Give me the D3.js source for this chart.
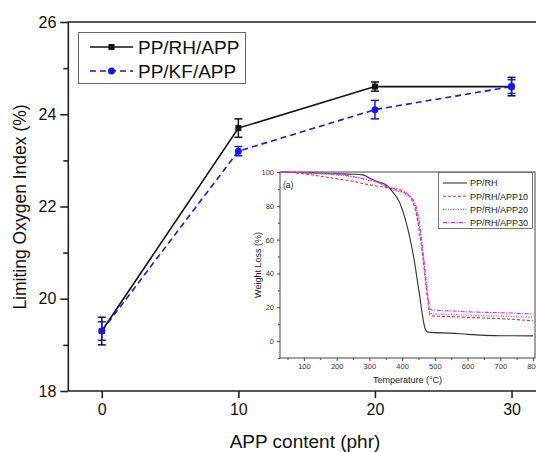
<!DOCTYPE html>
<html>
<head>
<meta charset="utf-8">
<script src="https://cdn.jsdelivr.net/npm/d3@7"></script>
<style>
    body { margin: 0; background: #fff; }
    #chart { width: 536px; height: 452px; overflow: hidden; }
    svg { font-family: "Liberation Sans", Arial, sans-serif; display: block; }
</style>
</head>
<body>
<div id="chart"></div>
<script>
//Datos del gráfico principal
let appContent = [0, 10, 20, 30];
let loiRH = [19.3, 23.7, 24.6, 24.6];
let errRH = [0.3, 0.2, 0.1, 0.2];
let loiKF = [19.3, 23.2, 24.1, 24.6];
let errKF = [0.2, 0.1, 0.2, 0.15];
let yTicks = [18, 20, 22, 24, 26];
let xTicks = [0, 10, 20, 30];

//Datos del gráfico insertado (TGA)
let tgaTemp = [30, 100, 150, 200, 250, 280, 300, 330, 350, 370, 390, 410, 425, 435, 445, 455, 460, 465, 470, 475, 480, 485, 490, 500, 550, 600, 700, 800];
let tgaRH = [100, 99.6, 99.3, 99, 98.7, 98.3, 96.5, 94, 92.5, 88.5, 83, 72, 60, 50, 38, 25, 18, 12, 7.5, 5.8, 5.3, 5.2, 5.1, 5, 4.7, 4, 3.2, 3.1];
let tgaAPP10 = [100, 99, 97.5, 96, 94.5, 93.2, 92.5, 91.5, 91, 90, 89, 87.5, 85, 81, 74, 62, 55, 47, 38, 30, 22, 15.5, 15, 14.8, 14.5, 14, 13.3, 12];
let tgaAPP20 = [100, 99.5, 99, 98.3, 97, 96, 95, 93.5, 92, 89.5, 88.5, 87, 85, 82, 76, 65, 57, 49, 40, 31, 23, 17, 16.3, 16, 15.8, 15.3, 14.8, 14];
let tgaAPP30 = [100, 99.6, 99.2, 98.6, 97.3, 96.2, 95.3, 93.5, 91.5, 90.5, 90, 88, 85.5, 83, 78, 67, 59, 51, 42, 33, 25, 19, 18.5, 18.3, 17.8, 17.3, 16.8, 16];
let tgaNames = ['PP/RH', 'PP/RH/APP10', 'PP/RH/APP20', 'PP/RH/APP30'];
let tgaXTicks = [100, 200, 300, 400, 500, 600, 700, 800];
let tgaYTicks = [0, 20, 40, 60, 80, 100];

let svg = d3.select('#chart').append('svg')
    .attr('width', 536)
    .attr('height', 452);

/* Gráfico principal */
let x = d3.scaleLinear().domain([-2.45, 32.45]).range([68.3, 545]);
let y = d3.scaleLinear().domain([18, 26]).range([391, 22]);

//Marco
svg.append('path')
    .attr('d', `M${x(-2.45)},${y(18)}V${y(26)}H545`)
    .attr('fill', 'none').attr('stroke', '#222').attr('stroke-width', 1.6);
svg.append('line')
    .attr('x1', x(-2.45)).attr('x2', 545)
    .attr('y1', y(18)).attr('y2', y(18))
    .attr('stroke', '#222').attr('stroke-width', 1.6);

//Eje X
let xAxis = svg.append('g')
    .attr('transform', `translate(0,${y(18)})`)
    .call(d3.axisBottom(x).tickValues(xTicks).tickSize(7).tickPadding(6));
xAxis.select('.domain').remove();
xAxis.selectAll('.tick line').attr('stroke', '#222').attr('stroke-width', 1.6);
xAxis.selectAll('.tick text').attr('font-size', 16).attr('fill', '#111')
    .attr('font-family', '"Liberation Sans", Arial, sans-serif');

//Eje Y
let yAxis = svg.append('g')
    .attr('transform', `translate(${x(-2.45)},0)`)
    .call(d3.axisLeft(y).tickValues(yTicks).tickSize(8).tickPadding(4));
yAxis.select('.domain').remove();
yAxis.selectAll('.tick line').attr('stroke', '#222').attr('stroke-width', 1.6);
yAxis.selectAll('.tick text').attr('font-size', 16).attr('fill', '#111')
    .attr('font-family', '"Liberation Sans", Arial, sans-serif');

//Ticks menores
let yMinor = svg.append('g')
    .attr('transform', `translate(${x(-2.45)},0)`)
    .call(d3.axisLeft(y).tickValues([19, 21, 23, 25]).tickSize(5).tickFormat(''));
yMinor.select('.domain').remove();
yMinor.selectAll('.tick line').attr('stroke', '#222').attr('stroke-width', 1.6);

//Títulos de ejes
svg.append('text')
    .attr('x', 305).attr('y', 448)
    .attr('text-anchor', 'middle')
    .attr('font-size', 19).attr('fill', '#111')
    .text('APP content (phr)');
svg.append('text')
    .attr('transform', 'translate(26,207) rotate(-90)')
    .attr('text-anchor', 'middle')
    .attr('font-size', 17.5).attr('fill', '#111')
    .text('Limiting Oxygen Index (%)');

//Series
let seriesMain = [
    {name: 'PP/RH/APP', values: loiRH, errors: errRH, color: '#111', dash: null, marker: 'square'},
    {name: 'PP/KF/APP', values: loiKF, errors: errKF, color: '#1515f0', dash: '6,4', marker: 'circle'}
];

let line = d3.line()
    .x(function(d) { return x(d.x); })
    .y(function(d) { return y(d.y); });

seriesMain.forEach(function(s) {
    let pts = appContent.map(function(a, i) { return {x: a, y: s.values[i], e: s.errors[i]}; });
    let g = svg.append('g');

    g.append('path')
        .datum(pts)
        .attr('d', line)
        .attr('fill', 'none')
        .attr('stroke', s.color)
        .attr('stroke-width', 1.6)
        .attr('stroke-dasharray', s.dash);

    //Barras de error
    pts.forEach(function(p) {
        let cx = x(p.x);
        g.append('line')
            .attr('x1', cx).attr('x2', cx)
            .attr('y1', y(p.y - p.e)).attr('y2', y(p.y + p.e))
            .attr('stroke', s.color).attr('stroke-width', 1.5);
        [p.y - p.e, p.y + p.e].forEach(function(v) {
            g.append('line')
                .attr('x1', cx - 4).attr('x2', cx + 4)
                .attr('y1', y(v)).attr('y2', y(v))
                .attr('stroke', s.color).attr('stroke-width', 1.5);
        });
    });

    //Marcadores
    if (s.marker == 'square') {
        g.selectAll('.mk').data(pts).enter().append('rect')
            .attr('x', function(d) { return x(d.x) - 3; })
            .attr('y', function(d) { return y(d.y) - 3; })
            .attr('width', 6).attr('height', 6)
            .attr('fill', s.color);
    } else {
        g.selectAll('.mk').data(pts).enter().append('circle')
            .attr('cx', function(d) { return x(d.x); })
            .attr('cy', function(d) { return y(d.y); })
            .attr('r', 3.5)
            .attr('fill', s.color);
    }
});

//Leyenda principal
let legend = svg.append('g');
legend.append('rect')
    .attr('x', 78.5).attr('y', 32.5)
    .attr('width', 167).attr('height', 51)
    .attr('fill', '#fff').attr('stroke', '#666').attr('stroke-width', 1);
seriesMain.forEach(function(s, i) {
    let ly = 47 + i * 24;
    legend.append('line')
        .attr('x1', 90).attr('x2', 133)
        .attr('y1', ly).attr('y2', ly)
        .attr('stroke', s.color).attr('stroke-width', 1.6)
        .attr('stroke-dasharray', s.dash);
    if (s.marker == 'square') {
        legend.append('rect').attr('x', 108.5).attr('y', ly - 3).attr('width', 6).attr('height', 6).attr('fill', s.color);
    } else {
        legend.append('circle').attr('cx', 111.5).attr('cy', ly).attr('r', 3.5).attr('fill', s.color);
    }
    legend.append('text')
        .attr('x', 138).attr('y', ly + 7)
        .attr('font-size', 19).attr('fill', '#111')
        .text(s.name);
});

/* Gráfico insertado */
let ix = d3.scaleLinear().domain([27, 806]).range([280, 535]);
let iy = d3.scaleLinear().domain([-10, 100]).range([358, 172]);

let inset = svg.append('g');
inset.append('rect')
    .attr('x', ix(27)).attr('y', iy(100))
    .attr('width', ix(806) - ix(27)).attr('height', iy(-10) - iy(100))
    .attr('fill', '#fff').attr('stroke', '#444').attr('stroke-width', 1);

let ixAxis = inset.append('g')
    .attr('transform', `translate(0,${iy(-10)})`)
    .call(d3.axisBottom(ix).tickValues(tgaXTicks).tickSize(3).tickPadding(3));
ixAxis.select('.domain').remove();
ixAxis.selectAll('.tick text').attr('font-size', 7.5).attr('fill', '#333')
    .attr('font-family', '"Liberation Sans", Arial, sans-serif');
ixAxis.selectAll('.tick line').attr('stroke', '#444');
let ixMinor = inset.append('g')
    .attr('transform', `translate(0,${iy(-10)})`)
    .call(d3.axisBottom(ix).tickValues([50, 150, 250, 350, 450, 550, 650, 750]).tickSize(2).tickFormat(''));
ixMinor.select('.domain').remove();
ixMinor.selectAll('.tick line').attr('stroke', '#444');

let iyAxis = inset.append('g')
    .attr('transform', `translate(${ix(27)},0)`)
    .call(d3.axisLeft(iy).tickValues(tgaYTicks).tickSize(3).tickPadding(3));
iyAxis.select('.domain').remove();
iyAxis.selectAll('.tick text').attr('font-size', 7.5).attr('fill', '#333')
    .attr('font-family', '"Liberation Sans", Arial, sans-serif');
iyAxis.selectAll('.tick line').attr('stroke', '#444');
let iyMinor = inset.append('g')
    .attr('transform', `translate(${ix(27)},0)`)
    .call(d3.axisLeft(iy).tickValues([-10, 10, 30, 50, 70, 90]).tickSize(2).tickFormat(''));
iyMinor.select('.domain').remove();
iyMinor.selectAll('.tick line').attr('stroke', '#444');

inset.append('text')
    .attr('x', (ix(27) + ix(806)) / 2).attr('y', 383)
    .attr('text-anchor', 'middle')
    .attr('font-size', 9).attr('fill', '#222')
    .text('Temperature (°C)');
inset.append('text')
    .attr('transform', `translate(261,${(iy(-10) + iy(100)) / 2}) rotate(-90)`)
    .attr('text-anchor', 'middle')
    .attr('font-size', 9).attr('fill', '#222')
    .text('Weight Loss (%)');
inset.append('text')
    .attr('x', 283).attr('y', 188)
    .attr('font-size', 8.5).attr('fill', '#222')
    .text('(a)');

let seriesTga = [
    {name: tgaNames[0], values: tgaRH, color: '#333', dash: null, width: 1.1},
    {name: tgaNames[1], values: tgaAPP10, color: '#ff2020', dash: '3,2', width: 1.1},
    {name: tgaNames[2], values: tgaAPP20, color: '#6a6aff', dash: '1,1.5', width: 1.2},
    {name: tgaNames[3], values: tgaAPP30, color: '#ff20ff', dash: '4,1.5,1,1.5', width: 1.1}
];

let iline = d3.line()
    .x(function(d) { return ix(d.t); })
    .y(function(d) { return iy(d.w); })
    .curve(d3.curveMonotoneX);

seriesTga.forEach(function(s) {
    inset.append('path')
        .datum(tgaTemp.map(function(t, i) { return {t: t, w: s.values[i]}; }))
        .attr('d', iline)
        .attr('fill', 'none')
        .attr('stroke', s.color)
        .attr('stroke-width', s.width)
        .attr('stroke-dasharray', s.dash);
});

//Leyenda insertada
let ilegend = inset.append('g');
ilegend.append('rect')
    .attr('x', 438.5).attr('y', 172.5)
    .attr('width', 94).attr('height', 56)
    .attr('fill', '#fff').attr('stroke', '#555').attr('stroke-width', 0.8);
seriesTga.forEach(function(s, i) {
    let ly = 183 + i * 13.2;
    ilegend.append('line')
        .attr('x1', 443).attr('x2', 467)
        .attr('y1', ly).attr('y2', ly)
        .attr('stroke', s.color).attr('stroke-width', s.width)
        .attr('stroke-dasharray', s.dash);
    ilegend.append('text')
        .attr('x', 470).attr('y', ly + 3.3)
        .attr('font-size', 9).attr('fill', '#222')
        .text(s.name);
});
</script>
</body>
</html>
